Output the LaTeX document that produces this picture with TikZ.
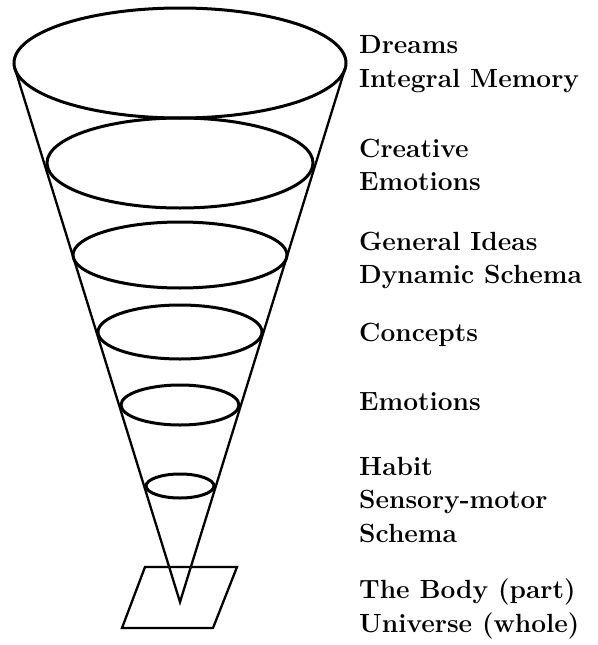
\documentclass[tikz,border=0pt]{standalone}
\begin{document}
\begin{tikzpicture}[x=1pt,y=-1pt,
  ring/.style={draw=black,line width=3pt},
  coneline/.style={draw=black,line width=2.3pt,line join=miter},
  plane/.style={draw=black,line width=2.3pt,line join=miter},
  lbl/.style={anchor=base west,inner sep=0pt,font=\fontsize{26.3}{30}\selectfont\bfseries}]
\useasboundingbox (0,0) rectangle (597,645);
% plane
\coordinate (p1) at (145,567);
\coordinate (p2) at (237,567);
\coordinate (p3) at (213,628);
\coordinate (p4) at (122,628);
\draw[plane] (p1) -- (p2) -- (p3) -- (p4) -- cycle;
% cone
\coordinate (apex) at (180,602);
\coordinate (tl) at (14.9,68.6);
\coordinate (tr) at (345.1,68.6);
\draw[coneline] (tl) -- (apex) -- (tr);
% rings
\draw[ring] (180,63) ellipse [x radius=166pt, y radius=55pt];
\draw[ring] (180,163) ellipse [x radius=133pt, y radius=45pt];
\draw[ring] (180,255) ellipse [x radius=107pt, y radius=33pt];
\draw[ring] (180,332) ellipse [x radius=82pt, y radius=27pt];
\draw[ring] (180,405) ellipse [x radius=59pt, y radius=20pt];
\draw[ring] (180,486) ellipse [x radius=34pt, y radius=12pt];
% labels
\node[lbl] (t1) at (359,53) {Dreams};
\node[lbl] (t2) at (359,87) {Integral Memory};
\node[lbl] (t3) at (359,157) {Creative};
\node[lbl] (t4) at (359,190) {Emotions};
\node[lbl] (t5) at (359,250) {General Ideas};
\node[lbl] (t6) at (359,283) {Dynamic Schema};
\node[lbl] (t7) at (359,341) {Concepts};
\node[lbl] (t8) at (359,410) {Emotions};
\node[lbl] (t9) at (359,475) {Habit};
\node[lbl] (t10) at (359,508) {Sensory-motor};
\node[lbl] (t11) at (359,542) {Schema};
\node[lbl] (t12) at (359,598) {The Body (part)};
\node[lbl] (t13) at (359,632) {Universe (whole)};
\end{tikzpicture}
\end{document}
